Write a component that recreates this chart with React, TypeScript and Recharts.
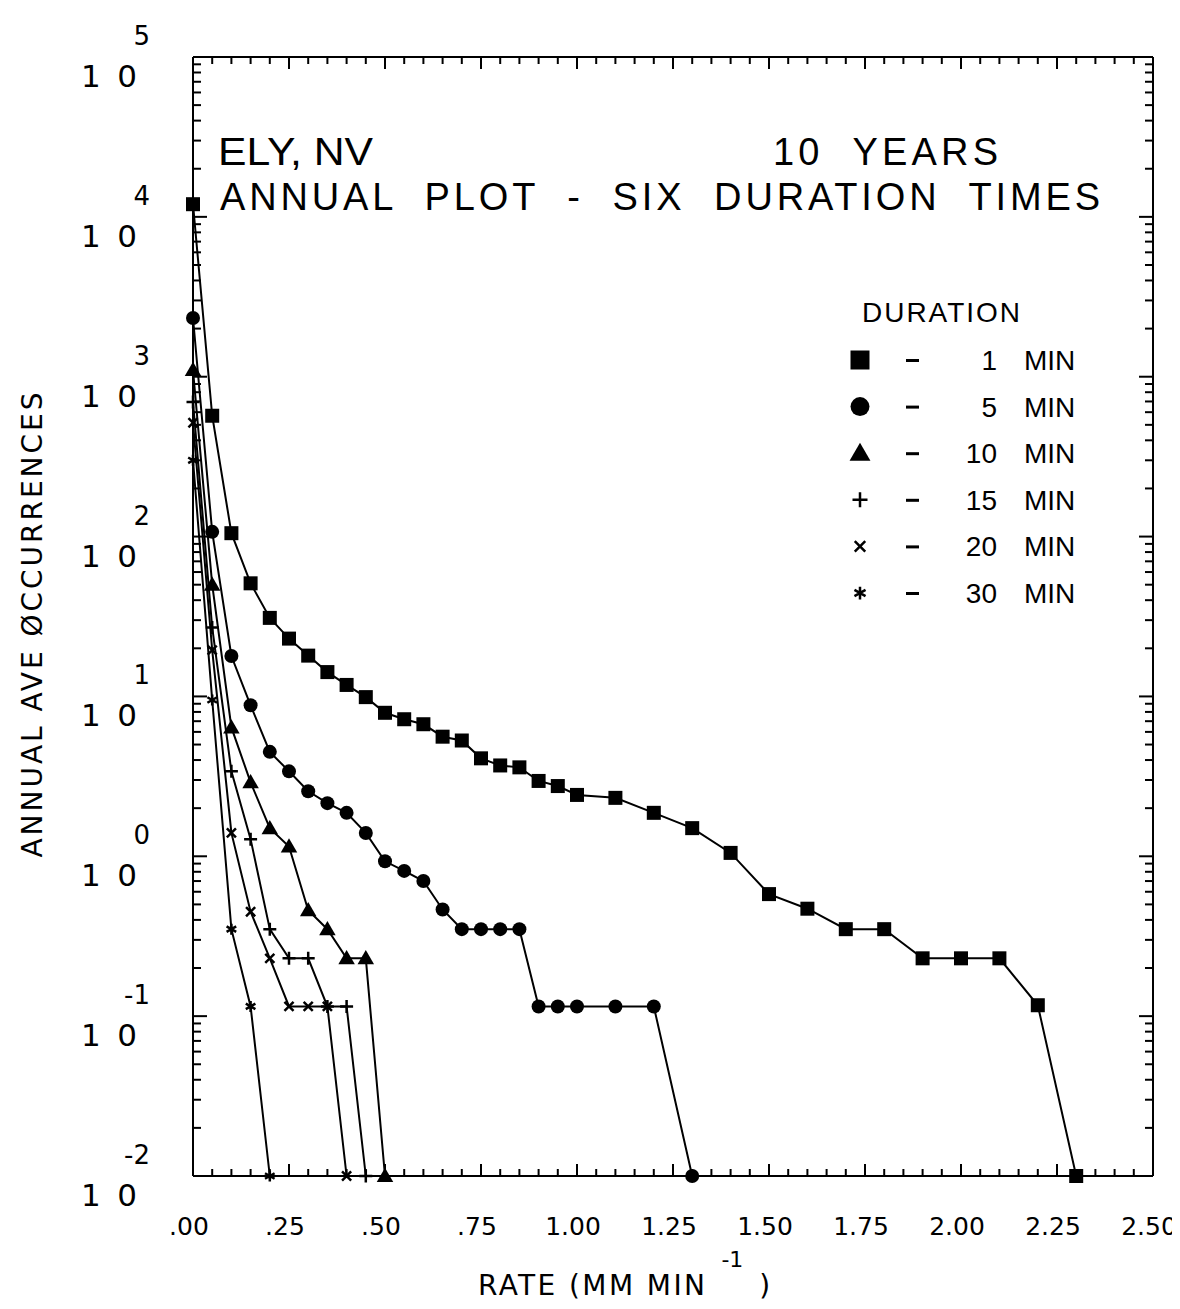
import React from "react";
import { LineChart, Line, XAxis, YAxis, Legend, Label, Customized, ReferenceLine } from "recharts";

// rate thresholds (mm/min) and annual average occurrences, one pair per duration
const rate1Min = [0, 0.05, 0.1, 0.15, 0.2, 0.25, 0.3, 0.35, 0.4, 0.45, 0.5, 0.55, 0.6, 0.65, 0.7, 0.75, 0.8, 0.85, 0.9, 0.95, 1.0, 1.1, 1.2, 1.3, 1.4, 1.5, 1.6, 1.7, 1.8, 1.9, 2.0, 2.1, 2.2, 2.3];
const occ1Min = [12000, 570, 105, 51, 31, 23, 18, 14.2, 11.8, 9.9, 7.9, 7.2, 6.7, 5.6, 5.3, 4.1, 3.7, 3.6, 2.96, 2.75, 2.42, 2.32, 1.87, 1.5, 1.05, 0.58, 0.47, 0.35, 0.35, 0.23, 0.23, 0.23, 0.117, 0.01];

const rate5Min = [0, 0.05, 0.1, 0.15, 0.2, 0.25, 0.3, 0.35, 0.4, 0.45, 0.5, 0.55, 0.6, 0.65, 0.7, 0.75, 0.8, 0.85, 0.9, 0.95, 1.0, 1.1, 1.2, 1.3];
const occ5Min = [2330, 107, 17.9, 8.8, 4.5, 3.4, 2.55, 2.15, 1.87, 1.4, 0.93, 0.81, 0.7, 0.465, 0.35, 0.35, 0.35, 0.35, 0.115, 0.115, 0.115, 0.115, 0.115, 0.01];

const rate10Min = [0, 0.05, 0.1, 0.15, 0.2, 0.25, 0.3, 0.35, 0.4, 0.45, 0.5];
const occ10Min = [1100, 50, 6.4, 2.9, 1.5, 1.15, 0.46, 0.35, 0.23, 0.23, 0.01];

const rate15Min = [0, 0.05, 0.1, 0.15, 0.2, 0.25, 0.3, 0.35, 0.4, 0.45];
const occ15Min = [695, 27, 3.4, 1.28, 0.35, 0.23, 0.23, 0.115, 0.115, 0.01];

const rate20Min = [0, 0.05, 0.1, 0.15, 0.2, 0.25, 0.3, 0.35, 0.4];
const occ20Min = [515, 19.5, 1.4, 0.45, 0.23, 0.115, 0.115, 0.115, 0.01];

const rate30Min = [0, 0.05, 0.1, 0.15, 0.2];
const occ30Min = [300, 9.5, 0.35, 0.115, 0.01];

const xMajorTicks = [0, 0.25, 0.5, 0.75, 1.0, 1.25, 1.5, 1.75, 2.0, 2.25, 2.5];
const xMinorTicks = Array.from({ length: 51 }, (_, i) => i * 0.05);
const yDecades = [0.01, 0.1, 1, 10, 100, 1000, 10000, 100000];
const yMinorTicks = yDecades.slice(0, -1).flatMap((d) => [2, 3, 4, 5, 6, 7, 8, 9].map((k) => k * d));

const legendRows = [
  { kind: "square", num: "1" },
  { kind: "circle", num: "5" },
  { kind: "triangle", num: "10" },
  { kind: "plus", num: "15" },
  { kind: "cross", num: "20" },
  { kind: "star", num: "30" },
];

const toPoints = (xs: number[], ys: number[]) => xs.map((x, i) => ({ x, y: ys[i] }));

const series = [
  { name: "1 MIN", kind: "square", data: toPoints(rate1Min, occ1Min) },
  { name: "5 MIN", kind: "circle", data: toPoints(rate5Min, occ5Min) },
  { name: "10 MIN", kind: "triangle", data: toPoints(rate10Min, occ10Min) },
  { name: "15 MIN", kind: "plus", data: toPoints(rate15Min, occ15Min) },
  { name: "20 MIN", kind: "cross", data: toPoints(rate20Min, occ20Min) },
  { name: "30 MIN", kind: "star", data: toPoints(rate30Min, occ30Min) },
];

// axes that only carry the inward tick marks
const tickAxes: [string, string, number[], number[], number, number, "bottom" | "top", "left" | "right"][] = [
  ["bMaj", "lMaj", xMajorTicks, yDecades, 12, 14, "bottom", "left"],
  ["bMin", "lMin", xMinorTicks, yMinorTicks, 6, 7, "bottom", "left"],
  ["tMaj", "rMaj", xMajorTicks, yDecades, 12, 14, "top", "right"],
  ["tMin", "rMin", xMinorTicks, yMinorTicks, 6, 7, "top", "right"],
];

const PLOT_FONT = "'DejaVu Sans', sans-serif";
const TEXT_FONT = "'Liberation Sans', Arial, sans-serif";
const INK = "#000";

function Marker({ kind, cx, cy, s }: { kind: string; cx: number; cy: number; s: number }) {
  const h = s / 2;
  switch (kind) {
    case "square":
      return <rect x={cx - h} y={cy - h} width={s} height={s} fill={INK} />;
    case "circle":
      return <circle cx={cx} cy={cy} r={h} fill={INK} />;
    case "triangle":
      return <polygon points={`${cx},${cy - h * 1.1} ${cx + h * 1.1},${cy + h * 0.8} ${cx - h * 1.1},${cy + h * 0.8}`} fill={INK} />;
    case "plus":
      return <path d={`M${cx - h},${cy}H${cx + h}M${cx},${cy - h}V${cy + h}`} stroke={INK} strokeWidth={2.5} />;
    case "cross":
      return <path d={`M${cx - h * 0.7},${cy - h * 0.7}L${cx + h * 0.7},${cy + h * 0.7}M${cx + h * 0.7},${cy - h * 0.7}L${cx - h * 0.7},${cy + h * 0.7}`} stroke={INK} strokeWidth={2.5} />;
    default: {
      const r = h * 0.85;
      return (
        <path
          d={`M${cx},${cy - r}V${cy + r}M${cx - r * 0.87},${cy - r / 2}L${cx + r * 0.87},${cy + r / 2}M${cx + r * 0.87},${cy - r / 2}L${cx - r * 0.87},${cy + r / 2}`}
          stroke={INK}
          strokeWidth={2.5}
        />
      );
    }
  }
}

const NoTick = () => <g />;

function XTick(props: any) {
  const { x, y, payload } = props;
  const v: number = payload.value;
  const label = v < 1 ? v.toFixed(2).slice(1) : v.toFixed(2);
  return (
    <text x={x - 4} y={y + 59} textAnchor="middle" fontFamily={PLOT_FONT} fontSize={25} fill={INK}>
      {label}
    </text>
  );
}

function YTick(props: any) {
  const { x, y, payload } = props;
  const exp = Math.round(Math.log10(payload.value));
  return (
    <g fontFamily={PLOT_FONT} fill={INK}>
      <text x={x - 56} y={y + 30} textAnchor="end" fontSize={31} textLength={56} lengthAdjust="spacing">
        10
      </text>
      <text x={x - 43} y={y - 12} textAnchor="end" fontSize={26}>
        {exp}
      </text>
    </g>
  );
}

function XTitle() {
  return (
    <text x={478} y={1295} fontFamily={PLOT_FONT} fontSize={28} fill={INK}>
      <tspan textLength={227} lengthAdjust="spacing">RATE (MM MIN</tspan>
      <tspan dx={14} dy={-28} fontSize={22}>-1</tspan>
      <tspan dx={16} dy={28}>)</tspan>
    </text>
  );
}

function YTitle() {
  return (
    <text
      x={0}
      y={0}
      transform="translate(42,625) rotate(-90)"
      textAnchor="middle"
      fontFamily={PLOT_FONT}
      fontSize={28}
      fill={INK}
      textLength={465}
      lengthAdjust="spacing"
    >
      ANNUAL AVE ØCCURRENCES
    </text>
  );
}

function Titles() {
  return (
    <g fontFamily={TEXT_FONT} fontSize={38} fill={INK}>
      <text x={218} y={165} textLength={155} lengthAdjust="spacingAndGlyphs">ELY, NV</text>
      <text x={773} y={165} textLength={225} lengthAdjust="spacing" style={{ whiteSpace: "pre" }}>10  YEARS</text>
      <text x={220} y={210} textLength={880} lengthAdjust="spacing" style={{ whiteSpace: "pre" }}>
        ANNUAL  PLOT  -  SIX  DURATION  TIMES
      </text>
    </g>
  );
}

function LegendBox() {
  return (
    <svg width={250} height={320}>
      <g fontFamily={TEXT_FONT} fontSize={28} fill={INK}>
        <text x={17} y={32} textLength={158} lengthAdjust="spacing">DURATION</text>
        {legendRows.map((r, i) => {
          const cy = 70 + i * 46.6;
          const sz = r.kind === "square" || r.kind === "circle" || r.kind === "triangle" ? 19 : 15;
          return (
            <g key={r.num}>
              <Marker kind={r.kind} cx={15} cy={cy} s={sz} />
              <rect x={61} y={cy - 1} width={13} height={3} fill={INK} />
              <text x={152} y={cy + 10} textAnchor="end">{r.num}</text>
              <text x={179} y={cy + 10}>MIN</text>
            </g>
          );
        })}
      </g>
    </svg>
  );
}

export default function App() {
  const tickLine = { stroke: INK, strokeWidth: 2 };
  return (
    <div style={{ marginLeft: -8, marginTop: -8, marginBottom: -8, width: 1180, height: 1309 }}>
      <LineChart width={1180} height={1309} margin={{ top: 57, right: 27, left: 73, bottom: 0 }}>
        {tickAxes.map(([xa, , xt, , xl, , xo]) => (
          <XAxis key={xa} xAxisId={xa} dataKey="x" type="number" domain={[0, 2.5]} allowDataOverflow ticks={xt} interval={0} orientation={xo} mirror height={1} tickSize={xl} tick={NoTick} axisLine={false} tickLine={tickLine} />
        ))}
        {tickAxes.map(([, ya, , yt, , yl, , yo]) => (
          <YAxis key={ya} yAxisId={ya} type="number" scale="log" domain={[0.01, 100000]} allowDataOverflow ticks={yt} interval={0} orientation={yo} mirror width={1} tickSize={yl} tick={NoTick} axisLine={false} tickLine={tickLine} />
        ))}

        <XAxis xAxisId="main" dataKey="x" type="number" domain={[0, 2.5]} ticks={xMajorTicks} interval={0} height={133} tickSize={0} tickMargin={0} tickLine={false} axisLine={{ stroke: INK, strokeWidth: 2 }} tick={XTick}>
          <Label content={XTitle} />
        </XAxis>
        <YAxis yAxisId="main" dataKey="y" type="number" scale="log" domain={[0.01, 100000]} ticks={yDecades} interval={0} width={120} tickSize={0} tickMargin={0} tickLine={false} axisLine={{ stroke: INK, strokeWidth: 2 }} tick={YTick}>
          <Label content={YTitle} />
        </YAxis>

        {/* top and right edges of the frame */}
        <ReferenceLine xAxisId="main" yAxisId="main" y={100000} stroke={INK} strokeWidth={2} />
        <ReferenceLine xAxisId="main" yAxisId="main" x={2.5} stroke={INK} strokeWidth={2} />

        {/* invisible carriers so the tick-only axes get a domain */}
        {tickAxes.map(([xa, ya]) => (
          <Line key={`carrier-${xa}`} xAxisId={xa} yAxisId={ya} data={series[0].data} dataKey="y" stroke="none" dot={false} activeDot={false} legendType="none" isAnimationActive={false} />
        ))}

        {series.map((s) => (
          <Line
            key={s.name}
            name={s.name}
            xAxisId="main"
            yAxisId="main"
            data={s.data}
            dataKey="y"
            type="linear"
            stroke={INK}
            strokeWidth={2}
            isAnimationActive={false}
            dot={(p: any) => <Marker key={`${s.kind}-${p.index}`} kind={s.kind} cx={p.cx} cy={p.cy} s={s.kind === "square" || s.kind === "circle" ? 14 : s.kind === "triangle" ? 15 : 13} />}
            activeDot={false}
          />
        ))}

        <Customized component={<Titles />} />
        <Legend layout="vertical" align="center" verticalAlign="middle" wrapperStyle={{ left: 845, top: 290, width: 250 }} content={() => <LegendBox />} />
      </LineChart>
    </div>
  );
}
